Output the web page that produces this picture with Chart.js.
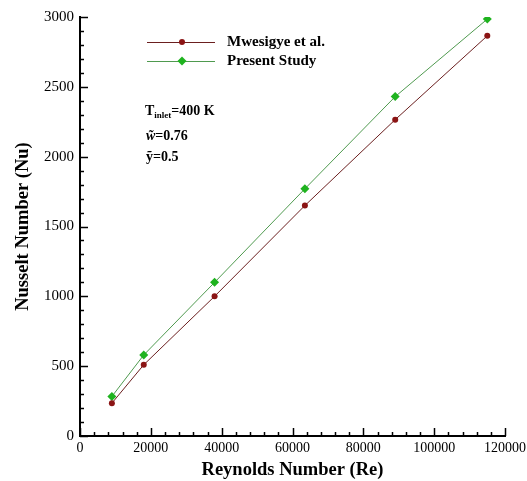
<!DOCTYPE html>
<html>
<head>
<meta charset="utf-8">
<script src="https://cdn.jsdelivr.net/npm/chart.js@4/dist/chart.umd.min.js"></script>
<style>
  html, body { margin: 0; padding: 0; background: #fff; overflow: hidden; }
  #wrap { position: relative; width: 540px; height: 481px; }
  .note { position: absolute; font-family: 'Liberation Serif', serif; font-weight: bold; font-size: 14px; color: #000; line-height: 1; white-space: nowrap; }
  .note sub { font-size: 9px; vertical-align: -3px; }
</style>
</head>
<body>
<div id="wrap">
  <canvas id="chart1" width="540" height="481"></canvas>
  <div class="note" style="left:145px; top:104px;">T<sub>inlet</sub>=400 K</div>
  <div class="note" style="left:146px; top:129px;"><i>w̃</i>=0.76</div>
  <div class="note" style="left:146px; top:150px;">ỹ=0.5</div>
</div>
<script>
// Reynolds number of each run
const reynolds = [9000, 18000, 38000, 63500, 89000, 115000];
// Nusselt number, Mwesigye et al.
const nuMwesigye = [235, 510, 1000, 1650, 2265, 2865];
// Nusselt number, present study
const nuPresent = [283, 580, 1100, 1770, 2430, 2985];
const seriesLabels = ['Mwesigye et al.', 'Present Study'];

const xMajor = 20000, yMajor = 500;

// ticks drawn inside the axes, long for major and short for minor
const inwardTicks = {
    id: 'inwardTicks',
    afterDraw(chart) {
        const ctx = chart.ctx;
        const xs = chart.scales.x, ys = chart.scales.y;
        const area = chart.chartArea;
        ctx.save();
        ctx.strokeStyle = '#000';
        ctx.lineWidth = 1.5;
        xs.ticks.forEach(t => {
            const px = Math.round(xs.getPixelForValue(t.value)) + 0.5;
            const len = t.value % xMajor === 0 ? 8 : 4;
            ctx.beginPath();
            ctx.moveTo(px, area.bottom);
            ctx.lineTo(px, area.bottom - len);
            ctx.stroke();
        });
        ys.ticks.forEach(t => {
            const py = Math.round(ys.getPixelForValue(t.value)) + 0.5;
            const len = t.value % yMajor === 0 ? 8 : 4;
            ctx.beginPath();
            ctx.moveTo(area.left, py);
            ctx.lineTo(area.left + len, py);
            ctx.stroke();
        });
        ctx.restore();
    }
};

// legend inside the plot, line with marker in the middle
const insideLegend = {
    id: 'insideLegend',
    afterDraw(chart) {
        const ctx = chart.ctx;
        ctx.save();
        chart.data.datasets.forEach((ds, i) => {
            const y = 42 + i * 19;
            ctx.strokeStyle = ds.borderColor;
            ctx.lineWidth = 1;
            ctx.beginPath();
            ctx.moveTo(147, y + 0.5);
            ctx.lineTo(215, y + 0.5);
            ctx.stroke();
            ctx.fillStyle = ds.pointBackgroundColor;
            ctx.beginPath();
            if (ds.pointStyle === 'rectRot') {
                const r = 4.5;
                ctx.moveTo(182, y - r);
                ctx.lineTo(182 + r, y);
                ctx.lineTo(182, y + r);
                ctx.lineTo(182 - r, y);
                ctx.closePath();
            } else {
                ctx.arc(182, y, 3, 0, Math.PI * 2);
            }
            ctx.fill();
            ctx.fillStyle = '#000';
            ctx.font = 'bold 15px "Liberation Serif"';
            ctx.textBaseline = 'middle';
            ctx.fillText(ds.label, 227, y);
        });
        ctx.restore();
    }
};

const ctx = document.getElementById('chart1').getContext('2d');
new Chart(ctx, {
    type: 'scatter',
    data: {
        datasets: [{
            label: seriesLabels[0],
            data: reynolds.map((re, i) => ({ x: re, y: nuMwesigye[i] })),
            showLine: true,
            borderColor: '#6b1f1f',
            borderWidth: 1,
            pointStyle: 'circle',
            pointRadius: 3,
            pointBackgroundColor: '#8b1414',
            pointBorderWidth: 0
        }, {
            label: seriesLabels[1],
            data: reynolds.map((re, i) => ({ x: re, y: nuPresent[i] })),
            showLine: true,
            borderColor: '#4f9a4f',
            borderWidth: 1,
            pointStyle: 'rectRot',
            pointRadius: 4.5,
            pointBackgroundColor: '#1fb31f',
            pointBorderWidth: 0
        }]
    },
    options: {
        responsive: false,
        animation: false,
        layout: { padding: { top: 17, right: 35, left: 0, bottom: 0 } },
        scales: {
            x: {
                type: 'linear',
                min: 0,
                max: 120000,
                afterFit: function(scale) { scale.height = 45; },
                ticks: {
                    stepSize: 4000,
                    autoSkip: false,
                    maxRotation: 0,
                    padding: 4,
                    callback: function(value) {
                        return value % xMajor === 0 ? String(value) : '';
                    },
                    font: { size: 14, family: 'Liberation Serif' },
                    color: '#000'
                },
                grid: { display: false, drawTicks: false },
                border: { display: true, color: '#000', width: 2 },
                title: {
                    display: true,
                    text: 'Reynolds Number (Re)',
                    padding: { top: 0, bottom: 0 },
                    font: { size: 18.5, weight: 'bold', family: 'Liberation Serif' },
                    color: '#000'
                }
            },
            y: {
                min: 0,
                max: 3000,
                afterFit: function(scale) { scale.width = 80; },
                ticks: {
                    stepSize: 100,
                    autoSkip: false,
                    padding: 6,
                    callback: function(value) {
                        return value % yMajor === 0 ? String(value) : '';
                    },
                    font: { size: 15, family: 'Liberation Serif' },
                    color: '#000'
                },
                grid: { display: false, drawTicks: false },
                border: { display: true, color: '#000', width: 2 },
                title: {
                    display: true,
                    text: 'Nusselt Number (Nu)',
                    padding: { top: 12, bottom: 0 },
                    font: { size: 18.5, weight: 'bold', family: 'Liberation Serif' },
                    color: '#000'
                }
            }
        },
        plugins: {
            legend: { display: false },
            tooltip: { enabled: false }
        }
    },
    plugins: [inwardTicks, insideLegend]
});
</script>
</body>
</html>
